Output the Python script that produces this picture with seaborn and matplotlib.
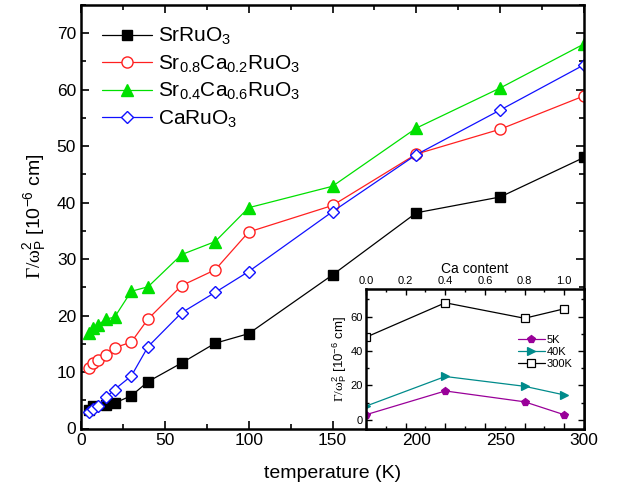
import matplotlib
matplotlib.use("Agg")
import matplotlib.pyplot as plt
from matplotlib.ticker import MultipleLocator, FormatStrFormatter
import seaborn as sns
import pandas as pd

# ---- data (main panel) ----
T_sr = [5, 7, 15, 20, 30, 40, 60, 80, 100, 150, 200, 250, 300]
v_sr = [3.3, 3.9, 4.2, 4.5, 5.8, 8.3, 11.6, 15.1, 16.8, 27.2, 38.2, 41.0, 48.0]

T_sr08 = [5, 7, 10, 15, 20, 30, 40, 60, 80, 100, 150, 200, 250, 300]
v_sr08 = [10.8, 11.6, 12.1, 13.1, 14.3, 15.3, 19.4, 25.3, 28.1, 34.8, 39.5, 48.6, 53.0, 58.9]

T_sr04 = [5, 7, 10, 15, 20, 30, 40, 60, 80, 100, 150, 200, 250, 300]
v_sr04 = [16.9, 17.8, 18.3, 19.4, 19.7, 24.3, 25.1, 30.8, 33.1, 39.1, 42.9, 53.2, 60.3, 68.1]

T_ca = [5, 7, 10, 15, 20, 30, 40, 60, 80, 100, 150, 200, 250, 300]
v_ca = [3.0, 3.4, 4.0, 5.5, 6.9, 9.3, 14.5, 20.5, 24.1, 27.8, 38.4, 48.5, 56.4, 64.4]

# ---- data (inset) ----
ca_content = [0.0, 0.4, 0.8, 1.0]
v_5K = [3.0, 16.8, 10.5, 3.0]
v_40K = [8.0, 25.2, 19.5, 14.5]
v_300K = [48.0, 68.0, 59.0, 64.5]

sns.set_theme(style="ticks", rc={
    "text.color": "black", "axes.labelcolor": "black",
    "xtick.color": "black", "ytick.color": "black", "axes.edgecolor": "black",
})
plt.rcParams["font.family"] = ["Liberation Sans", "DejaVu Sans"]
plt.rcParams["mathtext.fontset"] = "custom"
plt.rcParams["mathtext.rm"] = "Liberation Serif"
plt.rcParams["mathtext.sf"] = "Liberation Sans"
plt.rcParams["mathtext.it"] = "Liberation Serif:italic"
plt.rcParams["mathtext.default"] = "regular"

fig = plt.figure(figsize=(6.24, 4.91), dpi=100)
ax = fig.add_axes([81 / 624, 1 - 428.5 / 491, (584 - 81) / 624, (428.5 - 5) / 491])

series = [
    (T_sr, v_sr, "SrRuO$_3$", "s", "black", "black", 7),
    (T_sr08, v_sr08, "Sr$_{0.8}$Ca$_{0.2}$RuO$_3$", "o", "#ff2020", "white", 8),
    (T_sr04, v_sr04, "Sr$_{0.4}$Ca$_{0.6}$RuO$_3$", "^", "#00e000", "#00e000", 8.5),
    (T_ca, v_ca, "CaRuO$_3$", "D", "#1010ff", "white", 6.5),
]
for T, v, lab, mk, col, fc, ms in series:
    df = pd.DataFrame({"T": T, "v": v})
    sns.lineplot(data=df, x="T", y="v", ax=ax, color=col, marker=mk,
                 markersize=ms, markerfacecolor=fc, markeredgecolor=col,
                 markeredgewidth=1.0, linewidth=0.9, label=lab)

ax.set_xlim(0, 300)
ax.set_ylim(0, 75)
ax.xaxis.set_major_locator(MultipleLocator(50))
ax.xaxis.set_minor_locator(MultipleLocator(25))
ax.yaxis.set_major_locator(MultipleLocator(10))
ax.yaxis.set_minor_locator(MultipleLocator(5))
ax.tick_params(which="both", direction="in", top=True, right=True, width=1.2, labelsize=12.5)
ax.tick_params(which="major", length=6)
ax.tick_params(which="minor", length=3.5)
for s in ax.spines.values():
    s.set_linewidth(1.8)
ax.set_xlabel("temperature (K)", fontsize=14, labelpad=12)
ax.set_ylabel(r"$\mathrm{\Gamma/\omega}_{P}^{2}$ [10$^{-6}$ cm]", fontsize=14, labelpad=6)
ax.legend(loc="upper left", frameon=False, fontsize=15, handlelength=2.4,
          handletextpad=0.3, labelspacing=0.3, borderaxespad=0.6)

# ---- inset ----
ins = fig.add_axes([366 / 624, 1 - 428.5 / 491, (584 - 366) / 624, (428.5 - 289) / 491])
ins.set_facecolor("white")
inset_series = [
    (v_5K, "5K", "p", "#990099", "#990099"),
    (v_40K, "40K", ">", "#008b8b", "#008b8b"),
    (v_300K, "300K", "s", "black", "white"),
]
for v, lab, mk, col, fc in inset_series:
    df = pd.DataFrame({"x": ca_content, "v": v})
    sns.lineplot(data=df, x="x", y="v", ax=ins, color=col, marker=mk,
                 markersize=6, markerfacecolor=fc, markeredgecolor=col,
                 markeredgewidth=0.9, linewidth=0.9, label=lab)
ins.set_xlim(0, 1.1)
ins.set_ylim(-5, 76)
ins.xaxis.set_major_locator(MultipleLocator(0.2))
ins.xaxis.set_minor_locator(MultipleLocator(0.1))
ins.yaxis.set_major_locator(MultipleLocator(20))
ins.yaxis.set_minor_locator(MultipleLocator(10))
ins.xaxis.set_ticks_position("both")
ins.xaxis.set_label_position("top")
ins.tick_params(which="both", direction="in", top=True, bottom=True, right=True,
                labeltop=True, labelbottom=False, width=1.0, labelsize=8, pad=2)
ins.tick_params(which="major", length=4)
ins.tick_params(which="minor", length=2.5)
ins.xaxis.set_major_formatter(FormatStrFormatter("%.1f"))
for s in ins.spines.values():
    s.set_linewidth(1.8)
ins.set_xlabel("Ca content", fontsize=10, labelpad=2)
ins.set_ylabel(r"$\mathrm{\Gamma/\omega}_{P}^{2}$ [10$^{-6}$ cm]", fontsize=9.5, labelpad=1)
ins.legend(loc="center right", bbox_to_anchor=(1.0, 0.55), frameon=False, fontsize=8,
           handlelength=2.4, handletextpad=0.2, labelspacing=0.2, borderaxespad=0.6)

fig.savefig("out.png", dpi=100)
